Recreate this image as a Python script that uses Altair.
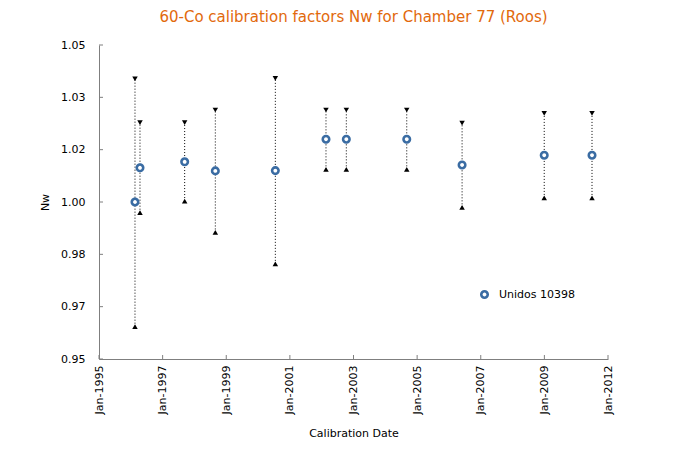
import altair as alt
import pandas as pd

# ---- data ----
dates = ["1996-03-15", "1996-05-15", "1997-11-11", "1998-11-20", "2000-11-21",
         "2002-08-01", "2003-04-06", "2005-04-12", "2007-02-16", "2009-11-14", "2011-06-20"]
nw = [1.0000, 1.0109, 1.0128, 1.0099, 1.0100, 1.0200, 1.0200, 1.0200, 1.0118, 1.0149, 1.0149]
err_hi = [1.0392, 1.0253, 1.0253, 1.0293, 1.0394, 1.0293, 1.0293, 1.0293, 1.0251, 1.0282, 1.0282]
err_lo = [0.9603, 0.9966, 1.0003, 0.9903, 0.9803, 1.0104, 1.0104, 1.0104, 0.9983, 1.0013, 1.0013]
series_name = "Unidos 10398"

y_ticks = [0.95, 0.966667, 0.983333, 1.0, 1.016667, 1.033333, 1.05]
x_start, x_end = "1995-01-01", "2012-01-01"

# Excel-style date axis: 8 equal major intervals between start and end
t0, t1 = pd.Timestamp(x_start), pd.Timestamp(x_end)
x_tick_dates = [t0 + (t1 - t0) * k / 8 for k in range(9)]
x_tick_ms = [int(t.value // 10**6) for t in x_tick_dates]

df = pd.DataFrame({"date": dates, "nw": nw, "hi": err_hi, "lo": err_lo,
                   "series": [series_name] * len(dates)})
ydf = pd.DataFrame({"v": y_ticks})
xdf = pd.DataFrame({"d": [t.strftime("%Y-%m-%dT%H:%M:%S") for t in x_tick_dates]})

W, H = 509, 314
BLUE = "#3A6CA3"
AXIS = "#7f7f7f"
FONT = "DejaVu Sans"

xscale = alt.Scale(type="utc", nice=False,
                   domain=[alt.DateTime(year=1995, month=1, date=1, utc=True),
                           alt.DateTime(year=2012, month=1, date=1, utc=True)])
yscale = alt.Scale(domain=[0.95, 1.05], nice=False, zero=False)

xaxis = alt.Axis(values=x_tick_ms, labelExpr="'Jan-' + utcyear(datum.value)",
                 labelAngle=-90, labelAlign="right", labelBaseline="middle",
                 labelPadding=6, ticks=False, grid=False, domainColor=AXIS,
                 title="Calibration Date", titlePadding=14)
yaxis = alt.Axis(values=y_ticks, format=".2f", ticks=False, grid=False,
                 domainColor=AXIS, labelPadding=14, title="Nw", titlePadding=10)

base = alt.Chart(df)

bars = base.mark_rule(color="black", strokeDash=[1, 2], strokeWidth=1).encode(
    x=alt.X("date:T", scale=xscale, axis=xaxis),
    y=alt.Y("lo:Q", scale=yscale, axis=yaxis),
    y2="hi:Q",
)
top_caps = base.mark_point(shape="triangle-down", filled=True, color="black",
                           size=30, opacity=1).encode(
    x=alt.X("date:T", scale=xscale), y=alt.Y("hi:Q", scale=yscale))
bot_caps = base.mark_point(shape="triangle-up", filled=True, color="black",
                           size=30, opacity=1).encode(
    x=alt.X("date:T", scale=xscale), y=alt.Y("lo:Q", scale=yscale))
points = base.mark_point(filled=False, strokeWidth=2.6, size=42, opacity=1,
                         fill="white").encode(
    x=alt.X("date:T", scale=xscale),
    y=alt.Y("nw:Q", scale=yscale),
    color=alt.Color("series:N", scale=alt.Scale(range=[BLUE]),
                    legend=alt.Legend(title=None, orient="none", legendX=380,
                                      legendY=244, symbolType="circle",
                                      symbolSize=42, symbolStrokeWidth=2.6,
                                      symbolFillColor="white",
                                      labelFontSize=11, labelFont=FONT,
                                      labelColor="black", padding=0,
                                      labelOffset=9)),
)

ytick_marks = alt.Chart(ydf).mark_rule(color=AXIS, strokeWidth=1).encode(
    y=alt.Y("v:Q", scale=yscale), x=alt.value(0), x2=alt.value(4))
xtick_marks = alt.Chart(xdf).mark_rule(color=AXIS, strokeWidth=1).encode(
    x=alt.X("d:T", scale=xscale), y=alt.value(H), y2=alt.value(H - 4))

chart = alt.layer(ytick_marks, xtick_marks, bars, top_caps, bot_caps, points).properties(
    width=W, height=H,
    title=alt.TitleParams("60-Co calibration factors Nw for Chamber 77 (Roos)",
                          color="#E2690C", fontSize=15, font=FONT,
                          fontWeight="normal", anchor="middle", offset=14),
    autosize=alt.AutoSizeParams(type="none"),
    padding={"left": 91, "top": 37, "right": 70, "bottom": 88},
).configure_view(stroke=None).configure_axis(
    labelFont=FONT, titleFont=FONT, labelFontSize=11, titleFontSize=11,
    labelColor="black", titleColor="black", titleFontWeight="normal",
    domainWidth=1,
)

chart.save("out.html", embed_options={"renderer": "svg", "actions": False})
